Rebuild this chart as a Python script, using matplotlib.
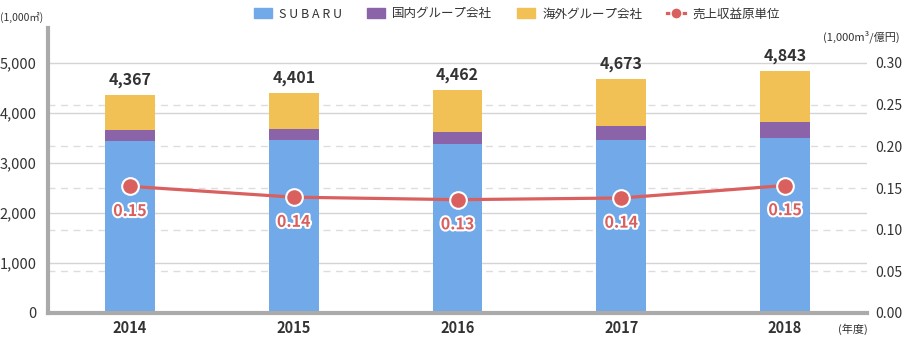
import matplotlib.pyplot as plt
import matplotlib.patheffects as pe
from matplotlib.patches import Patch
from matplotlib.lines import Line2D

plt.rcParams['font.family'] = ['Noto Sans CJK JP', 'DejaVu Sans']

# データ
years = ['2014', '2015', '2016', '2017', '2018']
subaru = [3440, 3460, 3380, 3460, 3500]
domestic = [220, 220, 240, 280, 320]
overseas = [707, 721, 842, 933, 1023]
totals = ['4,367', '4,401', '4,462', '4,673', '4,843']
unit_cost = [0.152, 0.139, 0.136, 0.138, 0.153]
unit_labels = ['0.15', '0.14', '0.13', '0.14', '0.15']

c_blue = '#72a9e8'
c_purple = '#8a63a8'
c_yellow = '#f2c155'
c_red = '#d9605f'
c_text = '#333333'

fig = plt.figure(figsize=(9.02, 3.37), dpi=100)
ax = fig.add_axes([48 / 902, 1 - 313 / 337, (867 - 48) / 902, (313 - 28) / 337])
ax2 = ax.twinx()

ytop = 5700
ytop2 = 0.342

x = range(len(years))
w = 0.305
b1 = [s + d for s, d in zip(subaru, domestic)]
ax.bar(x, subaru, w, color=c_blue, zorder=2)
ax.bar(x, domestic, w, bottom=subaru, color=c_purple, zorder=2)
ax.bar(x, overseas, w, bottom=b1, color=c_yellow, zorder=2)

for i, t in enumerate(totals):
    top = subaru[i] + domestic[i] + overseas[i]
    ax.annotate(t, (i, top), xytext=(0, 5), textcoords='offset points',
                ha='center', va='bottom', fontsize=11.5, fontweight='bold', color=c_text)

ax.set_xlim(-0.5, 4.5)
ax.set_ylim(0, ytop)
ax.set_yticks([0, 1000, 2000, 3000, 4000, 5000])
ax.set_yticklabels(['0', '1,000', '2,000', '3,000', '4,000', '5,000'])
ax.set_xticks(list(x))
ax.set_xticklabels(years, fontweight='bold')

# 罫線
for v in [1000, 2000, 3000, 4000, 5000]:
    ax.axhline(v, color='#d4d4d4', lw=1, zorder=0)
for v in [0.05, 0.10, 0.15, 0.20, 0.25]:
    ax.axhline(v * ytop / ytop2, color='#dddddd', lw=1, ls=(0, (5, 4)), zorder=0)

ax2.plot(x, unit_cost, color=c_red, lw=2.3, marker='o', markersize=12,
         markerfacecolor=c_red, markeredgecolor='white', markeredgewidth=1.5, zorder=3)
for i, lab in enumerate(unit_labels):
    ax2.annotate(lab, (i, unit_cost[i]), xytext=(0, -12), textcoords='offset points',
                 ha='center', va='top', fontsize=11.5, fontweight='bold', color=c_red,
                 path_effects=[pe.withStroke(linewidth=3, foreground='white')])
ax2.set_ylim(0, ytop2)
ax2.set_yticks([0, 0.05, 0.10, 0.15, 0.20, 0.25, 0.30])
ax2.set_yticklabels(['0.00', '0.05', '0.10', '0.15', '0.20', '0.25', '0.30'])

for a in (ax, ax2):
    for s in ['top', 'right']:
        a.spines[s].set_visible(False)
    a.tick_params(length=0, labelsize=10.5, labelcolor=c_text)
ax2.spines['left'].set_visible(False)
ax2.spines['bottom'].set_visible(False)
ax.spines['left'].set_color('#aaaaaa')
ax.spines['left'].set_linewidth(3)
ax.spines['bottom'].set_color('#aaaaaa')
ax.spines['bottom'].set_linewidth(3)
ax.tick_params(axis='y', pad=8)
ax.tick_params(axis='x', pad=5, labelsize=10.5)
ax2.tick_params(axis='y', pad=6, labelsize=10)

# 単位
fig.text(0 / 902, 1 - 17 / 337, '(1,000㎡)', fontsize=7.5, color=c_text, va='center')
fig.text(900 / 902, 1 - 37 / 337, '(1,000m³/億円)', fontsize=8, color=c_text, va='center', ha='right')
fig.text(868 / 902, 1 - 329 / 337, '(年度)', fontsize=8, color=c_text, va='center', ha='right')

handles = [
    Patch(color=c_blue, label='S U B A R U'),
    Patch(color=c_purple, label='国内グループ会社'),
    Patch(color=c_yellow, label='海外グループ会社'),
    Line2D([], [], color=c_red, lw=2.3, marker='o', markersize=8,
           markeredgecolor='white', label='売上収益原単位'),
]
fig.legend(handles=handles, loc='center', bbox_to_anchor=(517 / 902, 1 - 14 / 337), ncol=4,
           frameon=False, fontsize=9, handlelength=1.4, handleheight=0.8,
           handletextpad=0.6, columnspacing=2.0, labelcolor=c_text)

fig.savefig('out.png', dpi=100)
